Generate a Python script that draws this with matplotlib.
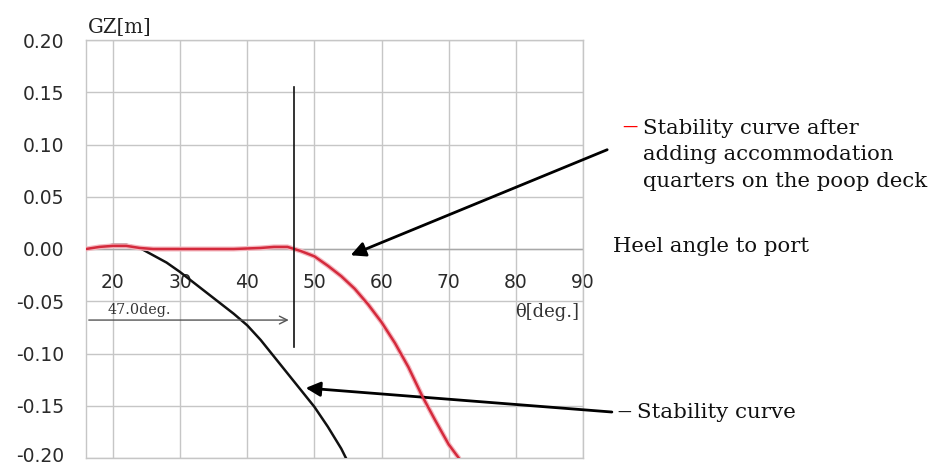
import matplotlib
matplotlib.use("Agg")
import matplotlib.pyplot as plt
import matplotlib.transforms as mtransforms

# ---- data ----
x_ticks = [20, 30, 40, 50, 60, 70, 80, 90]
x_tick_labels = ["20", "30", "40", "50", "60", "70", "80", "90"]
y_ticks = [-0.20, -0.15, -0.10, -0.05, 0.00, 0.05, 0.10, 0.15, 0.20]
y_tick_labels = ["-0.20", "-0.15", "-0.10", "-0.05", "0.00", "0.05", "0.10", "0.15", "0.20"]

# original stability curve (black)
base_theta = [16, 18, 20, 22, 24, 26, 28, 30, 32, 34, 36, 38, 40, 42, 44, 46, 48, 50, 52, 54, 54.7]
base_gz = [0.000, 0.002, 0.004, 0.004, 0.001, -0.006, -0.013, -0.022, -0.032, -0.042, -0.052,
           -0.062, -0.073, -0.087, -0.103, -0.119, -0.135, -0.151, -0.170, -0.191, -0.200]

# stability curve after adding accommodation quarters (red)
mod_theta = [16, 18, 20, 22, 24, 26, 30, 34, 38, 42, 44, 46, 47, 48, 50, 52, 54, 56, 58, 60,
             62, 64, 66, 68, 70, 71.5]
mod_gz = [0.000, 0.002, 0.003, 0.003, 0.001, 0.000, 0.000, 0.000, 0.000, 0.001, 0.002, 0.002,
          0.000, -0.002, -0.007, -0.016, -0.026, -0.038, -0.053, -0.070, -0.090, -0.113,
          -0.140, -0.164, -0.187, -0.200]

angle_marker = 47.0
marker_top = 0.155
marker_bottom = -0.094
arrow_y = -0.068

x_min, x_max = 16, 90
y_min, y_max = -0.20, 0.20

serif = "DejaVu Serif"
sans = "DejaVu Sans"

fig = plt.figure(figsize=(9.31, 4.66), dpi=100)
ax = fig.add_axes([86 / 931, 1 - 458 / 466, (583 - 86) / 931, (458 - 40) / 466])

ax.set_xlim(x_min, x_max)
ax.set_ylim(y_min, y_max)

grid_c = "#c6c6c6"
ax.set_xticks(x_ticks)
ax.set_xticklabels(x_tick_labels, fontfamily=sans, fontsize=13.5, color="#2a2a2a")
ax.set_yticks(y_ticks)
ax.set_yticklabels(y_tick_labels, fontfamily=sans, fontsize=13.5, color="#2a2a2a")
# x labels sit just below the zero line, inside the plot
ax.tick_params(axis="x", length=0, pad=-133)
ax.tick_params(axis="y", length=0, pad=16)
lbl = ax.get_yticklabels()[0]
lbl.set_transform(lbl.get_transform() + mtransforms.ScaledTranslation(0, 3 / 100, fig.dpi_scale_trans))
ax.grid(True, color=grid_c, lw=1.0)
ax.set_axisbelow(True)
for sp in ax.spines.values():
    sp.set_color(grid_c)
    sp.set_linewidth(1.0)

ax.axhline(0, color="#a8a8a8", lw=1.0, zorder=1)

# curves
ax.plot(base_theta, base_gz, color="#111111", lw=1.8, zorder=3)
ax.plot(mod_theta, mod_gz, color="#f4b8c0", lw=3.6, zorder=3, solid_capstyle="round")
ax.plot(mod_theta, mod_gz, color="#d42a3c", lw=1.8, zorder=4)

# vertical marker at 47 deg
ax.plot([angle_marker, angle_marker], [marker_bottom, marker_top], color="#111111", lw=1.2, zorder=5)
ax.annotate("", xy=(angle_marker - 0.4, arrow_y), xytext=(x_min, arrow_y),
            arrowprops=dict(arrowstyle="->", color="#555555", lw=1.0, mutation_scale=14))
ax.text(19.2, arrow_y + 0.003, "47.0deg.", fontfamily=serif, fontsize=10.3, color="#333333",
        ha="left", va="bottom")

# axis titles
ax.text(16.3, 0.203, "GZ[m]", fontfamily=serif, fontsize=14.2, color="#222222", ha="left", va="bottom")
ax.text(89.4, -0.052, "θ[deg.]", fontfamily=serif, fontsize=13, color="#333333", ha="right", va="top")

# annotation arrows
ax.annotate("", xy=(55.4, -0.006), xytext=(93.6, 0.095), annotation_clip=False,
            arrowprops=dict(arrowstyle="-|>", color="black", lw=2.0, mutation_scale=22,
                            shrinkA=0, shrinkB=0))
ax.annotate("", xy=(48.7, -0.133), xytext=(94.3, -0.156), annotation_clip=False,
            arrowprops=dict(arrowstyle="-|>", color="black", lw=2.0, mutation_scale=22,
                            shrinkA=0, shrinkB=0))

# side legend / labels
fig.text(622 / 931, 1 - 126 / 466, "—", color="#ff0000", fontsize=11, va="center", ha="left")
fig.text(643 / 931, 1 - 155 / 466,
         "Stability curve after\nadding accommodation\nquarters on the poop deck",
         fontfamily=serif, fontsize=15.3, color="#111111", va="center", ha="left", linespacing=1.5)
fig.text(613 / 931, 1 - 247 / 466, "Heel angle to port", fontfamily=serif, fontsize=15.3,
         color="#111111", va="center", ha="left")
fig.text(617 / 931, 1 - 413 / 466, "—", color="#111111", fontsize=10, va="center", ha="left")
fig.text(637 / 931, 1 - 413 / 466, "Stability curve", fontfamily=serif, fontsize=15.4,
         color="#111111", va="center", ha="left")

fig.savefig("out.png", dpi=100)
